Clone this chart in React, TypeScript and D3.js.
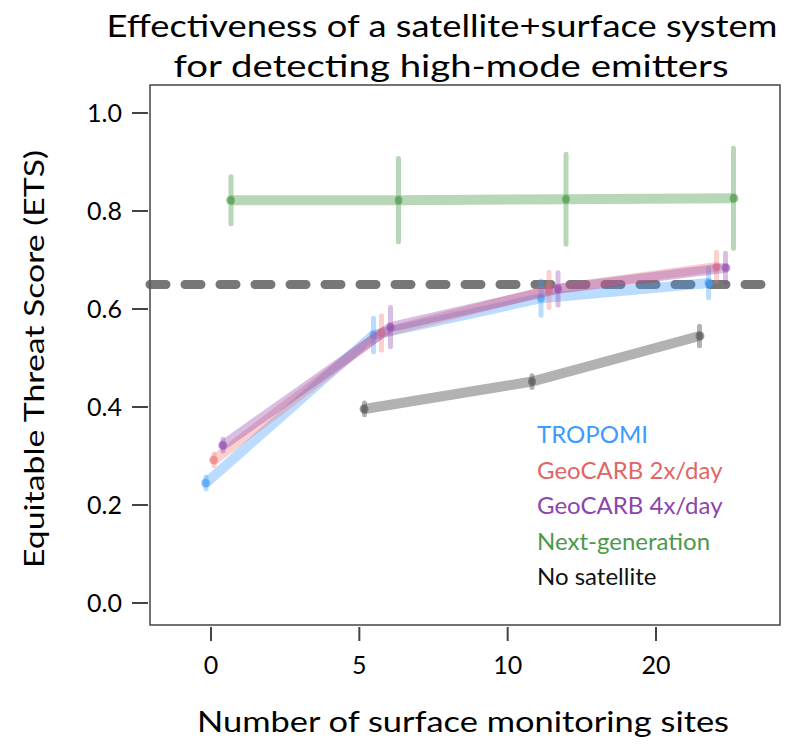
import * as d3 from 'd3'

const xLabels = ['0', '5', '10', '20']
const yTicks = [0, 0.2, 0.4, 0.6, 0.8, 1.0]

const tropomi = [0.245, 0.547, 0.622, 0.653]
const tropomiErr = [0.01, 0.034, 0.035, 0.03]
const geo2 = [0.292, 0.551, 0.639, 0.686]
const geo2Err = [0.012, 0.035, 0.036, 0.03]
const geo4 = [0.322, 0.563, 0.641, 0.684]
const geo4Err = [0.008, 0.04, 0.033, 0.03]
const nextGen = [0.822, 0.822, 0.824, 0.826]
const nextGenErr = [0.048, 0.085, 0.092, 0.102]
const noSat = [null, 0.396, 0.452, 0.545]
const noSatErr = [0, 0.01, 0.012, 0.02]
const threshold = 0.65

const series = [
  { name: 'TROPOMI', vals: tropomi, err: tropomiErr, color: '#3d9bff', op: 0.35, dx: -8 },
  { name: 'GeoCARB 2x/day', vals: geo2, err: geo2Err, color: '#f07878', op: 0.35, dx: 0 },
  { name: 'GeoCARB 4x/day', vals: geo4, err: geo4Err, color: '#8e44ad', op: 0.35, dx: 9 },
  { name: 'Next-generation', vals: nextGen, err: nextGenErr, color: '#4a9a4a', op: 0.4, dx: 17 },
  { name: 'No satellite', vals: noSat, err: noSatErr, color: '#555', op: 0.45, dx: -17 },
]
const legendColors = ['#3d9bff', '#e06666', '#8e44ad', '#4a9a4a', '#111']

export default function App() {
  const L = 150, R = 780, T = 85, B = 625
  const y = d3.scaleLinear().domain([0, 1]).range([603, 113])
  const xTick = d3.scalePoint<string>().domain(xLabels).range([211, 656])
  const xPt = d3.scalePoint<string>().domain(xLabels).range([214, 716.5])
  const font = 'Lato, "Noto Sans", sans-serif'
  return (
    <svg width={803} height={744} style={{ fontFamily: font, position: 'absolute', left: 0, top: 0 }}>
      <text x={442} y={37} textAnchor="middle" fontSize={30} textLength={671} lengthAdjust="spacingAndGlyphs">Effectiveness of a satellite+surface system</text>
      <text x={451} y={77} textAnchor="middle" fontSize={30} textLength={555} lengthAdjust="spacingAndGlyphs">for detecting high-mode emitters</text>
      <path d={`M${L},${T}H${R}V${B}H${L}Z`} fill="none" stroke="#444" strokeWidth={1.5} />
      {yTicks.map(t => (
        <g key={t}>
          <line x1={132} x2={148} y1={y(t)} y2={y(t)} stroke="#444" strokeWidth={2} />
          <text x={122} y={y(t) + 9} textAnchor="end" fontSize={25}>{t.toFixed(1)}</text>
        </g>
      ))}
      {xLabels.map(l => (
        <g key={l}>
          <line x1={xTick(l)} x2={xTick(l)} y1={B + 2} y2={B + 16} stroke="#444" strokeWidth={2} />
          <text x={xTick(l)} y={674} textAnchor="middle" fontSize={25}>{l}</text>
        </g>
      ))}
      <text transform={`translate(44,359) rotate(-90)`} textAnchor="middle" fontSize={26} textLength={418} lengthAdjust="spacingAndGlyphs">Equitable Threat Score (ETS)</text>
      <text x={463} y={732} textAnchor="middle" fontSize={28} textLength={532} lengthAdjust="spacingAndGlyphs">Number of surface monitoring sites</text>
      <line x1={L} x2={R} y1={y(threshold)} y2={y(threshold)} stroke="#555" strokeOpacity={0.8} strokeWidth={9} strokeDasharray="16 19" strokeLinecap="round" />
      {series.map(s => {
        const pts = s.vals.map((v, i) => ({ v, i })).filter(d => d.v != null) as { v: number; i: number }[]
        const line = d3.line<{ v: number; i: number }>().x(d => xPt(xLabels[d.i])! + s.dx).y(d => y(d.v))
        return (
          <g key={s.name}>
            <path d={line(pts)!} fill="none" stroke={s.color} strokeOpacity={s.op} strokeWidth={10} strokeLinecap="round" />
            {pts.map(d => {
              const cx = xPt(xLabels[d.i])! + s.dx
              const e = Math.max(s.err[d.i], 0.012)
              return (
                <g key={d.i}>
                  <line x1={cx} x2={cx} y1={y(d.v - e)} y2={y(d.v + e)} stroke={s.color} strokeOpacity={s.op} strokeWidth={5} strokeLinecap="round" />
                  <circle cx={cx} cy={y(d.v)} r={4} fill={s.color} fillOpacity={0.6} />
                </g>
              )
            })}
          </g>
        )
      })}
      {series.map((s, i) => (
        <text key={s.name} x={537} y={443 + i * 35.5} fontSize={24} fill={legendColors[i]}>{s.name}</text>
      ))}
    </svg>
  )
}
